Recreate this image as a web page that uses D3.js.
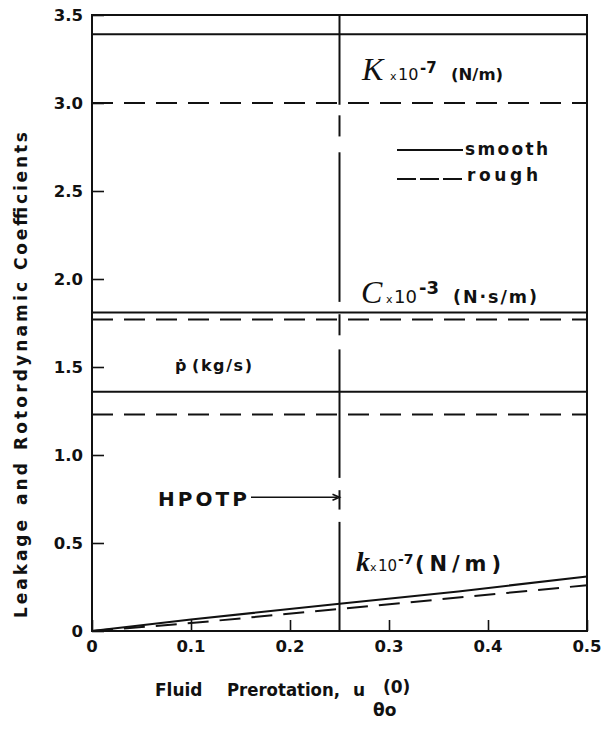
<!DOCTYPE html>
<html><head><meta charset="utf-8">
<script src="https://cdn.jsdelivr.net/npm/d3@7"></script>
<style>
body{margin:0;background:#fff;}
svg{display:block;}
text{font-family:"DejaVu Sans",Verdana,sans-serif;font-weight:bold;fill:#111;}
</style></head>
<body>
<svg id="chart" width="603" height="730"></svg>
<script>
// ---- data ----
const xTicks = [0, 0.1, 0.2, 0.3, 0.4, 0.5];
const xTickLabels = ["0", "0.1", "0.2", "0.3", "0.4", "0.5"];
const yTicks = [0, 0.5, 1.0, 1.5, 2.0, 2.5, 3.0, 3.5];
const yTickLabels = ["0", "0.5", "1.0", "1.5", "2.0", "2.5", "3.0", "3.5"];

// constant (horizontal) coefficients vs prerotation
const K_smooth = [[0, 3.39], [0.5, 3.39]];
const K_rough = [[0, 3.00], [0.5, 3.00]];
const C_smooth = [[0, 1.81], [0.5, 1.81]];
const C_rough = [[0, 1.77], [0.5, 1.77]];
const mdot_smooth = [[0, 1.36], [0.5, 1.36]];
const mdot_rough = [[0, 1.23], [0.5, 1.23]];
// cross-coupled stiffness k
const k_smooth = [[0, 0], [0.1, 0.065], [0.25, 0.155], [0.37, 0.225], [0.5, 0.31]];
const k_rough = [[0, 0], [0.1, 0.045], [0.25, 0.125], [0.5, 0.26]];

// HPOTP operating prerotation
const hpotpX = 0.25;
const hpotpSegments = [[3.5, 2.99], [2.93, 2.81], [2.72, 1.87], [1.80, 1.68], [1.60, 0.87], [0.80, 0.69], [0.62, 0]];

// ---- drawing ----
const svg = d3.select("#chart");
const x = d3.scaleLinear().domain([0, 0.5]).range([92, 587]);
const y = d3.scaleLinear().domain([0, 3.5]).range([631, 15]);
const line = d3.line().x(d => x(d[0])).y(d => y(d[1]));
const ink = "#111";
const roughDash = "21,11";

// frame
svg.append("rect").attr("x", x(0)).attr("y", y(3.5))
  .attr("width", x(0.5) - x(0)).attr("height", y(0) - y(3.5))
  .attr("fill", "none").attr("stroke", ink).attr("stroke-width", 2);

// axes with inward ticks
const xAxis = d3.axisBottom(x).tickValues(xTicks).tickSize(-11).tickFormat(() => "");
const gx = svg.append("g").attr("transform", `translate(0,${y(0)})`).call(xAxis);
gx.select(".domain").remove();
gx.selectAll(".tick line").attr("stroke", ink).attr("stroke-width", 1.6);

const yAxis = d3.axisLeft(y).tickValues(yTicks).tickSize(-12).tickFormat(() => "");
const gy = svg.append("g").attr("transform", `translate(${x(0)},0)`).call(yAxis);
gy.select(".domain").remove();
gy.selectAll(".tick line").attr("stroke", ink).attr("stroke-width", 1.6);

// tick labels
svg.append("g").selectAll("text").data(xTicks).join("text")
  .attr("x", d => x(d)).attr("y", 652)
  .attr("text-anchor", "middle").attr("font-size", 16.5)
  .text((d, i) => xTickLabels[i]);
svg.append("g").selectAll("text").data(yTicks).join("text")
  .attr("x", 83).attr("y", d => y(d) + 6)
  .attr("text-anchor", "end").attr("font-size", 16.5)
  .text((d, i) => yTickLabels[i]);

// series
const series = [
  {d: K_smooth, dash: null}, {d: K_rough, dash: roughDash},
  {d: C_smooth, dash: null}, {d: C_rough, dash: roughDash},
  {d: mdot_smooth, dash: null}, {d: mdot_rough, dash: roughDash},
  {d: k_smooth, dash: null}, {d: k_rough, dash: roughDash}
];
svg.append("g").selectAll("path").data(series).join("path")
  .attr("d", s => line(s.d)).attr("fill", "none").attr("stroke", ink)
  .attr("stroke-width", 2).attr("stroke-dasharray", s => s.dash);

// HPOTP vertical line
svg.append("g").selectAll("line").data(hpotpSegments).join("line")
  .attr("x1", x(hpotpX)).attr("x2", x(hpotpX))
  .attr("y1", d => y(d[0])).attr("y2", d => y(d[1]))
  .attr("stroke", ink).attr("stroke-width", 2);

// HPOTP arrow
const arrowY = y(0.76);
svg.append("line").attr("x1", 251).attr("x2", x(hpotpX) - 2).attr("y1", arrowY).attr("y2", arrowY)
  .attr("stroke", ink).attr("stroke-width", 1.6);
svg.append("path")
  .attr("d", `M${x(hpotpX) - 7},${arrowY - 3} L${x(hpotpX)},${arrowY} L${x(hpotpX) - 7},${arrowY + 3}`)
  .attr("fill", "none").attr("stroke", ink).attr("stroke-width", 1.6);
svg.append("text").attr("x", 158).attr("y", 506)
  .attr("font-size", 20)
  .attr("textLength", 89).attr("lengthAdjust", "spacing").text("HPOTP");

// legend
svg.append("line").attr("x1", 397).attr("x2", 463).attr("y1", 150).attr("y2", 150)
  .attr("stroke", ink).attr("stroke-width", 2);
svg.append("line").attr("x1", 397).attr("x2", 465).attr("y1", 179).attr("y2", 179)
  .attr("stroke", ink).attr("stroke-width", 2).attr("stroke-dasharray", "19,4");
svg.append("text").attr("x", 465).attr("y", 155).attr("font-size", 17)
  .attr("textLength", 83).attr("lengthAdjust", "spacing").text("smooth");
svg.append("text").attr("x", 467).attr("y", 181).attr("font-size", 17)
  .attr("textLength", 71).attr("lengthAdjust", "spacing").text("rough");

// curve labels: parts placed at explicit x positions
function coefLabel(base, parts) {
  const t = svg.append("text").attr("y", base);
  parts.forEach(p => {
    const s = t.append("tspan").attr("x", p.x).attr("y", base + (p.up ? -p.up : 0))
      .attr("font-size", p.size).text(p.text);
    if (p.serif) s.attr("font-family", "Liberation Serif, serif").attr("font-style", "italic");
    if (p.normal) s.attr("font-weight", "normal");
    if (p.len) s.attr("textLength", p.len).attr("lengthAdjust", "spacing");
  });
}
coefLabel(80, [
  {x: 362, text: "K", size: 32, serif: true, normal: true},
  {x: 390, text: "x", size: 11, normal: true},
  {x: 398, text: "10", size: 16, normal: true},
  {x: 420, text: "-7", size: 15, up: 7},
  {x: 451, text: "(N/m)", size: 16.5}
]);
coefLabel(303, [
  {x: 361, text: "C", size: 32, serif: true, normal: true},
  {x: 386, text: "x", size: 11, normal: true},
  {x: 394, text: "10", size: 18, normal: true},
  {x: 419, text: "-3", size: 18, up: 9},
  {x: 453, text: "(N·s/m)", size: 17.5, len: 84}
]);
coefLabel(571, [
  {x: 356, text: "k", size: 28, serif: true},
  {x: 370, text: "x", size: 11, normal: true},
  {x: 378, text: "10", size: 15, normal: true},
  {x: 398, text: "-7", size: 14, up: 7},
  {x: 415, text: "(N/m)", size: 21, len: 86}
]);

svg.append("text").attr("x", 175).attr("y", 371).attr("font-size", 16).text("ṗ");
svg.append("text").attr("x", 192).attr("y", 371).attr("font-size", 16)
  .attr("textLength", 60).attr("lengthAdjust", "spacing").text("(kg/s)");

// x axis title
const xt = svg.append("text").attr("y", 696).attr("font-size", 17);
xt.append("tspan").attr("x", 155).text("Fluid");
xt.append("tspan").attr("x", 227).attr("textLength", 113).attr("lengthAdjust", "spacingAndGlyphs").text("Prerotation,");
xt.append("tspan").attr("x", 353).text("u");
xt.append("tspan").attr("x", 373).attr("y", 716).text("θo");
xt.append("tspan").attr("x", 383).attr("y", 693).text("(0)");

// y axis title: words placed along the axis (positions are bottom ends of each word)
const yWords = [
  {text: "Leakage", from: 618, len: 98},
  {text: "and", from: 505, len: 42},
  {text: "Rotordynamic", from: 450, len: 168},
  {text: "Coefficients", from: 270, len: 138}
];
svg.append("g").selectAll("text").data(yWords).join("text")
  .attr("transform", d => `translate(27,${d.from}) rotate(-90)`)
  .attr("font-size", 17)
  .attr("textLength", d => d.len).attr("lengthAdjust", "spacing")
  .text(d => d.text);
</script>
</body></html>
